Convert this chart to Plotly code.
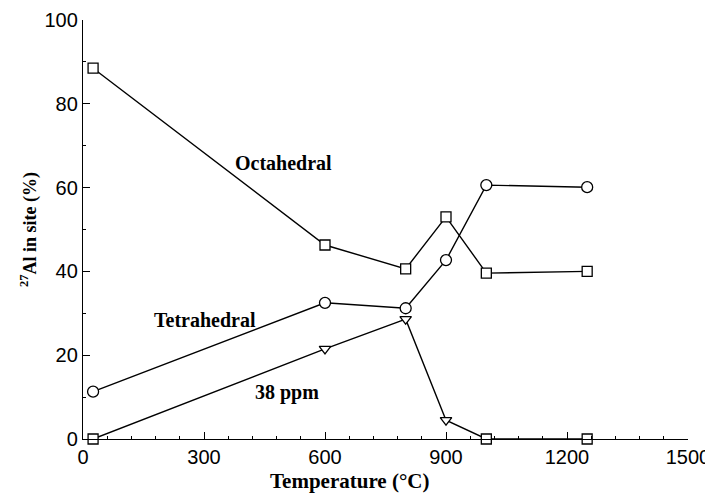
import plotly.graph_objects as go

temps = [25, 600, 800, 900, 1000, 1250]
octahedral = [88.5, 46.3, 40.6, 53.0, 39.6, 40.0]
tetrahedral = [11.3, 32.5, 31.2, 42.7, 60.6, 60.1]
ppm38 = [0, 21.5, 28.6, 4.5, 0, 0]
ppm38_symbols = ["square", "triangle-down", "triangle-down",
                 "triangle-down", "square", "square"]

labels = ["Octahedral", "Tetrahedral", "38 ppm"]
label_x = [496, 302, 506]
label_y = [65.9, 28.4, 11.0]

x_title = "Temperature (°C)"
y_title = "<sup>27</sup>Al in site (%)"

serif = "Liberation Serif, Times New Roman, serif"
sans = "Liberation Sans, Arial, sans-serif"

fig = go.Figure()
common_line = dict(color="black", width=1.4)
mk_line = dict(width=1.3, color="black")
fig.add_trace(go.Scatter(x=temps, y=octahedral, mode="lines+markers",
                         line=common_line,
                         marker=dict(symbol="square", size=10, color="white", line=mk_line),
                         cliponaxis=False, showlegend=False))
fig.add_trace(go.Scatter(x=temps, y=tetrahedral, mode="lines+markers",
                         line=common_line,
                         marker=dict(symbol="circle", size=11, color="white", line=mk_line),
                         cliponaxis=False, showlegend=False))
fig.add_trace(go.Scatter(x=temps, y=ppm38, mode="lines+markers",
                         line=common_line,
                         marker=dict(symbol=ppm38_symbols, size=10, color="white", line=mk_line),
                         cliponaxis=False, showlegend=False))

for t, x, y in zip(labels, label_x, label_y):
    fig.add_annotation(x=x, y=y, text="<b>" + t + "</b>", showarrow=False,
                       font=dict(family=serif, size=20, color="black"))

fig.add_annotation(xref="paper", yref="paper", x=0.441, y=-0.10,
                   xanchor="center", yanchor="middle", showarrow=False,
                   text="<b>" + x_title + "</b>",
                   font=dict(family=serif, size=21, color="black"))

fig.update_layout(
    width=705, height=496,
    margin=dict(l=75, r=25, t=12, b=65, autoexpand=False),
    plot_bgcolor="white", paper_bgcolor="white",
    xaxis=dict(range=[0, 1500], tickvals=[0, 300, 600, 900, 1200, 1500],
               automargin=False,
               showgrid=False, zeroline=False, showline=True, linecolor="black",
               linewidth=1.3, ticks="inside", ticklen=7, tickwidth=1.2,
               tickcolor="black",
               minor=dict(dtick=60, ticks="inside", ticklen=3, tickwidth=1,
                          tickcolor="black", showgrid=False),
               tickfont=dict(family=sans, size=20, color="black")),
    yaxis=dict(range=[0, 100], tickvals=[0, 20, 40, 60, 80, 100],
               automargin=False,
               showgrid=False, zeroline=False, showline=True, linecolor="black",
               linewidth=1.3, ticks="inside", ticklen=7, tickwidth=1.2,
               tickcolor="black",
               minor=dict(dtick=10, ticks="inside", ticklen=3, tickwidth=1,
                          tickcolor="black", showgrid=False),
               tickfont=dict(family=sans, size=20, color="black"),
               title=dict(text="<b>" + y_title + "</b>",
                          font=dict(family=serif, size=18, color="black"),
                          standoff=3)),
)

fig.write_html("out.html")
